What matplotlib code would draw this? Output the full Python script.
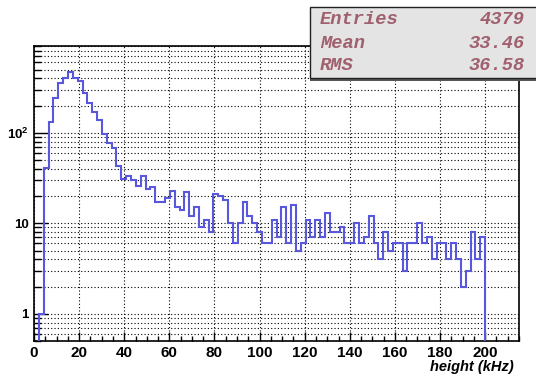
import numpy as np
import matplotlib
matplotlib.use('Agg')
import matplotlib.pyplot as plt
from matplotlib.patches import Rectangle
from matplotlib.ticker import FixedLocator, FixedFormatter, MultipleLocator, LogLocator, NullFormatter

# ---------------- data ----------------
n_bins = 100
x_range = (0.0, 215.0)
counts = [0, 1, 41, 133, 240, 354, 402, 464, 402, 378,
          275, 216, 168, 139, 97, 77, 68, 43, 31, 33,
          30, 26, 33, 24, 25, 17, 17, 19, 23, 15,
          14, 22, 12, 15, 9, 11, 8, 21, 20, 18,
          10, 6, 10, 17, 12, 10, 8, 6, 6, 11,
          7, 15, 6, 16, 5, 6, 11, 7, 11, 7,
          13, 8, 8, 9, 6, 6, 10, 6, 7, 12,
          6, 4, 8, 5, 6, 6, 3, 6, 6, 10,
          6, 7, 4, 6, 6, 4, 6, 4, 2, 3,
          8, 4, 7, 0, 0, 0, 0, 0, 0, 0]
x_ticks = [0, 20, 40, 60, 80, 100, 120, 140, 160, 180, 200]
x_tick_labels = [str(v) for v in x_ticks]
y_ticks = [1, 10, 100]
y_tick_labels = ['1', '10', r'$\mathbf{10^{2}}$']
x_label = 'height (kHz)'
stats_names = ['Entries', 'Mean', 'RMS']
stats_values = ['4379', '33.46', '36.58']

# ---------------- style ----------------
plt.rcParams['mathtext.fontset'] = 'custom'
plt.rcParams['mathtext.bf'] = 'Liberation Sans:bold'
plt.rcParams['mathtext.rm'] = 'Liberation Sans'

W, H = 536, 375
fig = plt.figure(figsize=(W / 100, H / 100), dpi=100)
fig.patch.set_facecolor('white')

L, R, T, B = 34, 519, 46, 341
ax = fig.add_axes([L / W, 1 - B / H, (R - L) / W, (B - T) / H])

edges = np.linspace(x_range[0], x_range[1], n_bins + 1)
vals = np.array(counts, dtype=float)
nz = np.nonzero(vals)[0]
i0, i1 = nz[0], nz[-1] + 1
ax.set_yscale('log')
ax.stairs(vals[i0:i1], edges[i0:i1 + 1], baseline=1e-3,
          color='#5858dc', linewidth=1.5, zorder=3)

ax.set_xlim(x_range)
ax.set_ylim(0.5, 910)

# ticks
ax.xaxis.set_major_locator(FixedLocator(x_ticks))
ax.xaxis.set_major_formatter(FixedFormatter(x_tick_labels))
ax.xaxis.set_minor_locator(MultipleLocator(5))
ax.yaxis.set_major_locator(FixedLocator(y_ticks))
ax.yaxis.set_major_formatter(FixedFormatter(y_tick_labels))
ax.yaxis.set_minor_locator(LogLocator(base=10, subs=np.arange(2, 10)))
ax.yaxis.set_minor_formatter(NullFormatter())

ax.tick_params(axis='x', which='major', direction='in', length=6.5, width=1.0, pad=3.5,
               top=False, labelsize=11)
ax.tick_params(axis='x', which='minor', direction='in', length=3.5, width=1.0, top=False)
ax.tick_params(axis='y', which='major', direction='in', length=10, width=1.0, pad=4,
               right=False, labelsize=9.5)
ax.tick_params(axis='y', which='minor', direction='in', length=5, width=1.0, right=False)
for lab in ax.get_xticklabels() + ax.get_yticklabels():
    lab.set_fontfamily('Liberation Sans')
    lab.set_fontweight('bold')

ax.grid(True, axis='x', which='major', color='black', linestyle=(0, (1, 2)), linewidth=0.8)
ax.grid(True, axis='y', which='both', color='black', linestyle=(0, (1, 2)), linewidth=0.8)
ax.set_axisbelow(True)

for s in ax.spines.values():
    s.set_linewidth(1.2)
    s.set_color('black')

fig.text(514 / W, 1 - 367 / H, x_label, ha='right', va='center',
         fontsize=10.5, fontfamily='Liberation Sans', fontweight='bold', fontstyle='italic')

# stats box
bx0, bx1, by0, by1 = 310, 545, 7, 78
fig.patches.append(Rectangle((bx0 / W, 1 - (by1 + 2.5) / H), (bx1 - bx0) / W, (by1 - by0) / H,
                             transform=fig.transFigure, facecolor='#555555', edgecolor='none',
                             zorder=10))
fig.patches.append(Rectangle((bx0 / W, 1 - by1 / H), (bx1 - bx0) / W, (by1 - by0) / H,
                             transform=fig.transFigure, facecolor='#e4e4e4', edgecolor='#222222',
                             linewidth=1.0, zorder=11))
text_color = '#a0606e'
ys = [20, 43, 65.5]
for name, val, yy in zip(stats_names, stats_values, ys):
    fig.text(320 / W, 1 - yy / H, name, ha='left', va='center', fontsize=13.5,
             fontfamily='Liberation Mono', fontweight='bold', fontstyle='italic',
             color=text_color, zorder=12)
    fig.text(525 / W, 1 - yy / H, val, ha='right', va='center', fontsize=13.5,
             fontfamily='Liberation Mono', fontweight='bold', fontstyle='italic',
             color=text_color, zorder=12)

fig.savefig('out.png', dpi=100)
